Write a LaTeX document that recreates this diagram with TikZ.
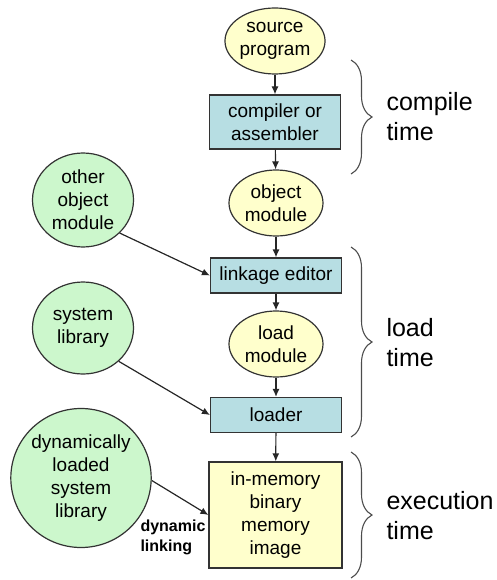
\documentclass[tikz,border=0pt]{standalone}
\usepackage{fontspec}
\setmainfont{Liberation Sans}
\usepackage{tikz}
\usetikzlibrary{arrows.meta, shapes.geometric, decorations.pathreplacing}
\definecolor{fileyellow}{HTML}{FFFFCC}
\definecolor{toolblue}{HTML}{B7DEE3}
\definecolor{libgreen}{HTML}{CCF7CC}
\newcommand{\stagefont}{\fontsize{19}{23}\selectfont}
\newcommand{\phasefont}{\fontsize{25}{30}\selectfont}
\tikzset{
  file/.style={ellipse,draw=black!80,fill=fileyellow,line width=1.2pt,minimum width=94pt,minimum height=66pt,inner sep=0pt,align=center,font=\stagefont},
  tool/.style={rectangle,draw=black!80,fill=toolblue,line width=1.2pt,minimum width=131pt,inner sep=0pt,align=center,font=\stagefont},
  lib/.style={ellipse,draw=black!80,fill=libgreen,line width=1.2pt,inner sep=0pt,align=center,font=\stagefont},
  flow/.style={-{Latex[length=8pt,width=7pt]},line width=1.2pt,draw=black!85},
  phase/.style={decorate,decoration={brace,amplitude=21pt},line width=1.1pt,draw=black!70},
  phasetext/.style={anchor=west,align=left,font=\phasefont}
}
\begin{document}
\begin{tikzpicture}[x=1pt,y=-1pt]
    \useasboundingbox (0,0) rectangle (497,580);
    \node[file] (a) at (275, 41) {source\\program};
    \node[tool,minimum height=54pt] (b) at (275, 122) {compiler or\\assembler};
    \node[file] (c) at (276, 203) {object\\module};
    \node[tool,minimum height=35pt] (d) at (276, 275.5) {linkage editor};
    \node[file] (e) at (276, 344) {load\\module};
    \node[tool,minimum height=35pt] (f) at (276, 415) {loader};
    \node[tool,fill=fileyellow,minimum width=133pt,minimum height=106pt] (g) at (275.5, 515) {in-memory\\binary\\memory\\image};
    \node[lib,minimum width=101pt,minimum height=94pt] (h) at (83, 200) {other\\object\\module};
    \node[lib,minimum width=101pt,minimum height=92pt] (i) at (83, 328) {system\\library};
    \node[lib,minimum width=135pt,minimum height=139pt] (j) at (81, 478) {dynamically\\loaded\\system\\library};
    \node[anchor=west,align=left,font=\fontsize{16}{20}\selectfont\bfseries] (k) at (137, 537) {dynamic\\linking};
    \draw[flow] (a) -- (b);
    \draw[flow] (b) -- (c);
    \draw[flow] (c) -- (d);
    \draw[flow] (d) -- (e);
    \draw[flow] (e) -- (f);
    \draw[flow] (f) -- (g);
    \draw[flow] (h.-42) -- (d.west);
    \draw[flow] (i.-43) -- (f.west);
    \draw[flow] (j.-2) -- (g.west);
    \coordinate (p1) at (351, 60);
    \coordinate (p2) at (351, 174);
    \coordinate (q1) at (351, 247);
    \coordinate (q2) at (351, 437);
    \coordinate (r1) at (351, 452);
    \coordinate (r2) at (351, 578);
    \draw[phase] (p1) -- (p2);
    \draw[phase] (q1) -- (q2);
    \draw[phase] (r1) -- (r2);
    \node[phasetext] (s) at (383, 117) {compile\\time};
    \node[phasetext] (t) at (383, 343) {load\\time};
    \node[phasetext] (u) at (383, 516) {execution\\time};
\end{tikzpicture}
\end{document}
